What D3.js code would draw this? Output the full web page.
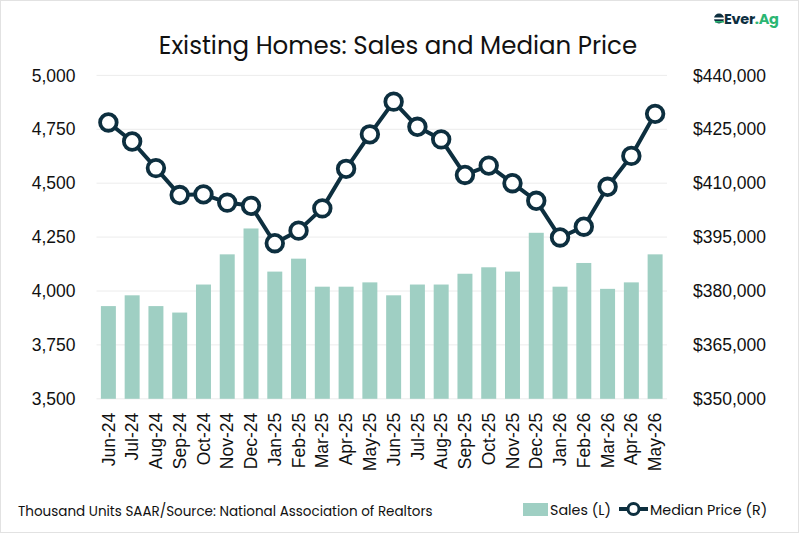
<!DOCTYPE html>
<html><head><meta charset="utf-8">
<script src="https://cdn.jsdelivr.net/npm/d3@7"></script>
<style>body{margin:0;background:#fff;}svg{display:block;font-family:"Poppins","Open Sans","DejaVu Sans",sans-serif;}</style>
</head><body><svg id="c" width="799" height="533"></svg>
<script>
const months = ["Jun-24","Jul-24","Aug-24","Sep-24","Oct-24","Nov-24","Dec-24","Jan-25","Feb-25","Mar-25","Apr-25","May-25","Jun-25","Jul-25","Aug-25","Sep-25","Oct-25","Nov-25","Dec-25","Jan-26","Feb-26","Mar-26","Apr-26","May-26"];
const sales = [3930,3980,3930,3900,4030,4170,4290,4090,4150,4020,4020,4040,3980,4030,4030,4080,4110,4090,4270,4020,4130,4010,4040,4170];
const medianPrice = [426900,421600,414200,406700,406900,404600,403700,393300,396800,403000,414000,423600,432700,425700,422200,412300,414900,410000,405100,394900,397900,409000,417600,429300];
const leftTicks = [3500,3750,4000,4250,4500,4750,5000];
const rightTicks = [350000,365000,380000,395000,410000,425000,440000];

const svg = d3.select("#c");
const W = 799, H = 533;
const m = {l:96.5, r:132, t:75.4, b:134.2};
const x = d3.scaleBand().domain(months).range([m.l, W - m.r]).paddingInner(0.37).paddingOuter(0.185);
const yL = d3.scaleLinear().domain([3500,5000]).range([H - m.b, m.t]);
const yR = d3.scaleLinear().domain([350000,440000]).range([H - m.b, m.t]);

svg.append("rect").attr("x",0.5).attr("y",0.5).attr("width",W-1).attr("height",H-1).attr("fill","#fff").attr("stroke","#e2e2e2");

// grid
svg.append("g").selectAll("line").data(leftTicks).join("line")
  .attr("x1",m.l).attr("x2",W-m.r).attr("y1",d=>yL(d)).attr("y2",d=>yL(d))
  .attr("stroke","#ececec").attr("stroke-width",1);

// left axis
const gL = svg.append("g").attr("transform",`translate(${m.l},0)`)
  .call(d3.axisLeft(yL).tickValues(leftTicks).tickFormat(d3.format(",")).tickSize(0).tickPadding(21));
gL.select(".domain").remove();
gL.selectAll("text").attr("font-size",17.5).attr("fill","#111").style("font-family","inherit");

// right axis
const gR = svg.append("g").attr("transform",`translate(${W-m.r},0)`)
  .call(d3.axisRight(yR).tickValues(rightTicks).tickFormat(d=>"$"+d3.format(",")(d)).tickSize(0).tickPadding(26));
gR.select(".domain").remove();
gR.selectAll("text").attr("font-size",17.5).attr("fill","#111").style("font-family","inherit");

// bars
svg.append("g").selectAll("rect").data(months).join("rect")
  .attr("x",d=>x(d)).attr("width",x.bandwidth())
  .attr("y",(d,i)=>yL(sales[i])).attr("height",(d,i)=>yL(3500)-yL(sales[i]))
  .attr("fill","#9fcfc3");

// x axis labels
const gX = svg.append("g").attr("transform",`translate(0,${H-m.b})`)
  .call(d3.axisBottom(x).tickSize(0).tickPadding(0));
gX.select(".domain").remove();
gX.selectAll("text").attr("font-size",17.5).attr("fill","#111").style("font-family","inherit")
  .attr("text-anchor","end").attr("dy","0.35em")
  .attr("transform","translate(0,14) rotate(-90)").attr("x",0).attr("y",0);

// line
const cx = (d,i)=>x(months[i]) + x.bandwidth()/2;
const line = d3.line().x((d,i)=>cx(d,i)).y(d=>yR(d));
svg.append("path").datum(medianPrice).attr("d",line).attr("fill","none")
  .attr("stroke","#0d2f3f").attr("stroke-width",4).attr("stroke-linejoin","round");
svg.append("g").selectAll("circle").data(medianPrice).join("circle")
  .attr("cx",(d,i)=>cx(d,i)).attr("cy",d=>yR(d)).attr("r",8.3)
  .attr("fill","#fff").attr("stroke","#0d2f3f").attr("stroke-width",3.8);

// title
svg.append("text").attr("x",398).attr("y",54).attr("text-anchor","middle")
  .attr("font-size",24.5).attr("fill","#111").text("Existing Homes: Sales and Median Price");

// footer
svg.append("text").attr("x",18).attr("y",516).attr("font-size",13.5).attr("fill","#111")
  .text("Thousand Units SAAR/Source: National Association of Realtors");

// legend
const lg = svg.append("g");
lg.append("rect").attr("x",523).attr("y",503).attr("width",25).attr("height",13).attr("fill","#9fcfc3");
lg.append("text").attr("x",550).attr("y",515).attr("font-size",14.3).attr("fill","#111").text("Sales (L)");
lg.append("line").attr("x1",619).attr("x2",648).attr("y1",509).attr("y2",509).attr("stroke","#0d2f3f").attr("stroke-width",4);
lg.append("circle").attr("cx",633.5).attr("cy",509).attr("r",5.5).attr("fill","#fff").attr("stroke","#0d2f3f").attr("stroke-width",3);
lg.append("text").attr("x",650).attr("y",515).attr("font-size",14.3).attr("fill","#111").text("Median Price (R)");

// logo
const logo = svg.append("g");
logo.append("circle").attr("cx",719).attr("cy",18.5).attr("r",5).attr("fill","#0d2f3f");
logo.append("rect").attr("x",713).attr("y",17.5).attr("width",12).attr("height",1.8).attr("fill","#fff");
logo.append("rect").attr("x",715).attr("y",21).attr("width",9).attr("height",1.6).attr("fill","#2bb673");
const lt = logo.append("text").attr("x",724).attr("y",24).attr("font-size",14.5).attr("font-weight",700).attr("fill","#0d2f3f").attr("letter-spacing",-0.3);
lt.append("tspan").text("Ever");
lt.append("tspan").attr("fill","#2bb673").text(".Ag");
</script></body></html>
